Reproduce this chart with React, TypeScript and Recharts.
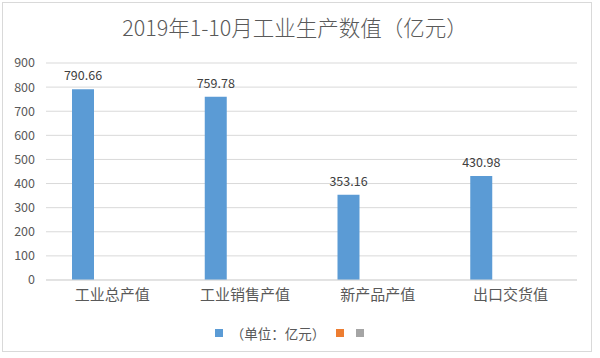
import { BarChart, Bar, XAxis, YAxis, CartesianGrid, Legend, LabelList } from "recharts";

const categories = ["工业总产值", "工业销售产值", "新产品产值", "出口交货值"];
const values = [790.66, 759.78, 353.16, 430.98];
const yTicks = [0, 100, 200, 300, 400, 500, 600, 700, 800, 900];

const data = categories.map((name, i) => ({ name, v1: values[i], v2: null, v3: null }));

const font = '"Noto Sans CJK SC", "Noto Sans", sans-serif';

function LegendContent() {
  const sq = (c: string) => (
    <span style={{ display: "inline-block", width: 8, height: 8, background: c }} />
  );
  return (
    <div
      style={{
        display: "flex",
        justifyContent: "center",
        alignItems: "center",
        height: 20,
        fontFamily: font,
        fontSize: 13.5,
        color: "#595959",
        paddingLeft: 2,
      }}
    >
      {sq("#5B9BD5")}
      <span style={{ marginLeft: 8, marginRight: 11 }}>（单位：亿元）</span>
      {sq("#ED7D31")}
      <span style={{ width: 12 }} />
      {sq("#A5A5A5")}
    </div>
  );
}

export default function App() {
  return (
    <div style={{ position: "relative", width: 600, height: 358, background: "#fff", fontFamily: font }}>
      <style>{`body{margin:0}`}</style>
      <div
        style={{
          position: "absolute",
          left: 2,
          top: 2,
          width: 590,
          height: 350,
          border: "1px solid #d9d9d9",
          boxSizing: "border-box",
        }}
      />
      <div
        style={{
          position: "absolute",
          top: 13,
          left: 0,
          width: 590,
          textAlign: "center",
          fontSize: 21.5,
          fontWeight: 300,
          lineHeight: "28px",
          color: "#595959",
        }}
      >
        2019年1-10月工业生产数值（亿元）
      </div>
      <BarChart
        width={600}
        height={358}
        data={data}
        margin={{ top: 63, right: 23, left: 0, bottom: 15 }}
        barSize={22}
        barGap={7}
        style={{ position: "absolute", top: 0, left: 0 }}
      >
        <CartesianGrid vertical={false} stroke="#d9d9d9" />
        <XAxis
          dataKey="name"
          height={43}
          tickLine={false}
          axisLine={{ stroke: "#d9d9d9" }}
          tickMargin={3}
          tick={{ fill: "#595959", fontSize: 15, fontFamily: font }}
        />
        <YAxis
          width={46}
          domain={[0, 900]}
          ticks={yTicks}
          axisLine={false}
          tickLine={false}
          tickMargin={5}
          tick={{ fill: "#595959", fontSize: 12.5, fontFamily: font }}
        />
        <Legend verticalAlign="bottom" height={20} content={<LegendContent />} />
        <Bar dataKey="v1" fill="#5B9BD5" isAnimationActive={false}>
          <LabelList
            dataKey="v1"
            position="top"
            offset={9}
            fill="#404040"
            fontSize={12.5}
            fontFamily={font}
          />
        </Bar>
        <Bar dataKey="v2" fill="#ED7D31" isAnimationActive={false} />
        <Bar dataKey="v3" fill="#A5A5A5" isAnimationActive={false} />
      </BarChart>
    </div>
  );
}
